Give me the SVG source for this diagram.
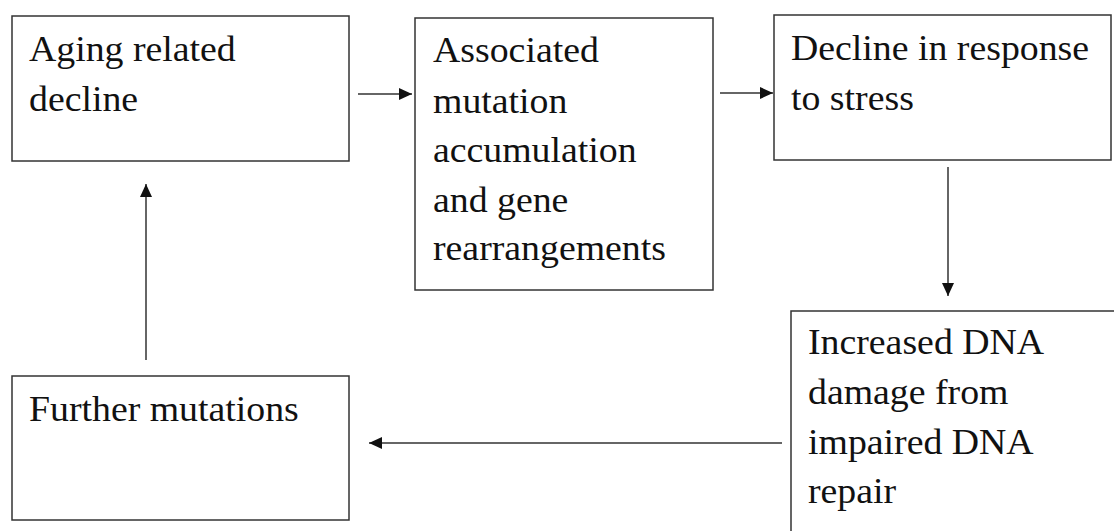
<svg xmlns="http://www.w3.org/2000/svg" width="1114" height="531" viewBox="0 0 1114 531">
<style>
.box{fill:#fff;stroke:#333;stroke-width:1.5}
.t{font-family:"Liberation Serif","Times New Roman",serif;font-size:36px;fill:#111}
.c{stroke:#333;stroke-width:1.5;fill:none;marker-end:url(#ah)}
</style>
<defs>
<marker id="ah" viewBox="0 0 13 12" refX="13" refY="6" markerWidth="13" markerHeight="12" markerUnits="userSpaceOnUse" orient="auto">
<path d="M0,0 L13,6 L0,12 z" fill="#111"/>
</marker>
</defs>
<rect width="1114" height="531" fill="#fff"/>
<g id="connectors">
<line class="c" x1="358" y1="94" x2="412" y2="94"/>
<line class="c" x1="720" y1="93" x2="773" y2="93"/>
<line class="c" x1="948" y1="167" x2="948" y2="296"/>
<line class="c" x1="782" y1="443" x2="369" y2="443"/>
<line class="c" x1="146" y1="360" x2="146" y2="184"/>
</g>
<g id="n1">
<rect class="box" x="12" y="16" width="337" height="145"/>
<g transform="translate(29,0) scale(1.05,1)">
<text class="t" x="0" y="61">Aging related</text>
<text class="t" x="0" y="111">decline</text>
</g>
</g>
<g id="n2">
<rect class="box" x="415" y="18" width="298" height="272"/>
<g transform="translate(433,0) scale(1.05,1)">
<text class="t" x="0" y="62">Associated</text>
<text class="t" x="0" y="113">mutation</text>
<text class="t" x="0" y="162">accumulation</text>
<text class="t" x="0" y="212">and gene</text>
<text class="t" x="0" y="260">rearrangements</text>
</g>
</g>
<g id="n3">
<rect class="box" x="774" y="15" width="337" height="145"/>
<g transform="translate(791,0) scale(1.05,1)">
<text class="t" x="0" y="60">Decline in response</text>
<text class="t" x="0" y="110">to stress</text>
</g>
</g>
<g id="n4">
<rect class="box" x="791" y="311" width="340" height="240"/>
<g transform="translate(808,0) scale(1.05,1)">
<text class="t" x="0" y="354">Increased DNA</text>
<text class="t" x="0" y="404">damage from</text>
<text class="t" x="0" y="454">impaired DNA</text>
<text class="t" x="0" y="503">repair</text>
</g>
</g>
<g id="n5">
<rect class="box" x="12" y="376" width="337" height="144"/>
<g transform="translate(29,0) scale(1.05,1)">
<text class="t" x="0" y="421">Further mutations</text>
</g>
</g>
</svg>
